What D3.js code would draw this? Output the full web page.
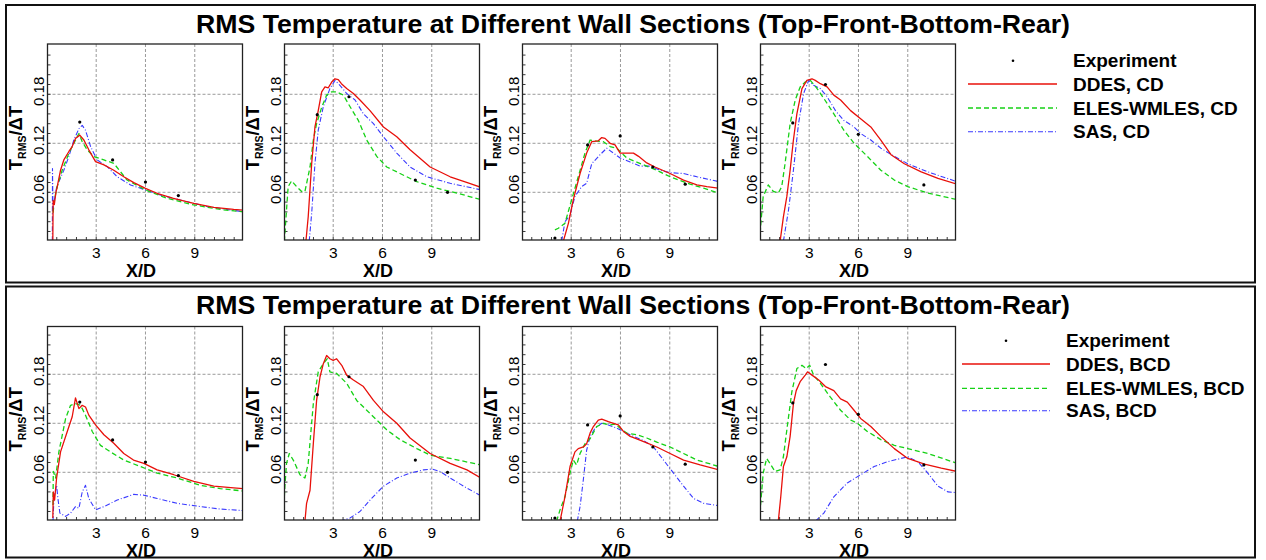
<!DOCTYPE html>
<html><head><meta charset="utf-8">
<script src="https://cdn.jsdelivr.net/npm/d3@7"></script>
<style>body{margin:0;background:#fff}svg{display:block}text{font-family:Arial,"Liberation Sans",sans-serif;fill:#000}</style>
</head><body><svg id="c" width="1266" height="560"></svg>
<script>
// ---------- data ----------
const xTickValues = [3, 6, 9];
const yTickValues = [0.06, 0.12, 0.18];
const yTickLabels = ["0.06", "0.12", "0.18"];
const titleText = "RMS Temperature at Different Wall Sections (Top-Front-Bottom-Rear)";
const xLabelText = "X/D";
const legendCD = ["Experiment", "DDES, CD", "ELES-WMLES, CD", "SAS, CD"];
const legendBCD = ["Experiment", "DDES, BCD", "ELES-WMLES, BCD", "SAS, BCD"];

const experiment = [
  [[2.0,0.146],[4.0,0.0996],[6.0,0.0725],[8.0,0.056]],
  [[2.03,0.155],[3.96,0.177],[8.0,0.075],[9.96,0.060]],
  [[2.01,0.004],[4.0,0.118],[5.98,0.129],[7.97,0.091],[9.94,0.070]],
  [[2.0,0.145],[3.99,0.192],[5.99,0.131],[9.98,0.069]]
];

const ddesCD = [
  [[0.36,0],[0.38,0.05],[0.45,0.045],[0.55,0.06],[0.63,0.067],[0.83,0.087],[1.03,0.0996],[1.34,0.11],[1.54,0.116],[1.74,0.126],[2.0,0.130],[2.25,0.124],[2.55,0.112],[2.96,0.0976],[3.47,0.0935],[4.07,0.087],[4.68,0.079],[5.29,0.0718],[6.0,0.0649],[6.7,0.0588],[7.7,0.0527],[8.94,0.0465],[10.16,0.0416],[11.37,0.039],[12,0.038]],
  [[1.34,0],[1.48,0.03],[1.69,0.095],[1.89,0.14],[2.09,0.16],[2.3,0.183],[2.5,0.189],[2.7,0.188],[2.91,0.195],[3.11,0.199],[3.31,0.198],[3.5,0.193],[3.82,0.187],[4.23,0.181],[4.63,0.173],[5.24,0.16],[6.06,0.14],[6.87,0.128],[7.68,0.112],[8.9,0.091],[10.12,0.079],[11.3,0.071],[12,0.066]],
  [[2.52,0],[2.83,0.022],[3.13,0.051],[3.54,0.083],[3.94,0.108],[4.25,0.122],[4.65,0.123],[4.86,0.127],[5.06,0.126],[5.37,0.12],[5.67,0.118],[5.98,0.108],[6.38,0.108],[6.79,0.108],[7.1,0.104],[7.6,0.096],[8.1,0.091],[9.02,0.083],[9.84,0.075],[10.65,0.069],[11.26,0.067],[12,0.065]],
  [[1.23,0],[1.43,0.03],[1.64,0.055],[1.84,0.087],[2.04,0.124],[2.25,0.156],[2.56,0.187],[2.86,0.197],[3.17,0.199],[3.37,0.197],[3.68,0.193],[4.09,0.189],[4.5,0.179],[4.91,0.173],[5.52,0.16],[6.13,0.15],[6.75,0.14],[7.36,0.124],[7.98,0.106],[8.79,0.095],[9.82,0.085],[10.84,0.077],[12,0.07]]
];
const elesCD = [
  [[0.38,0.035],[0.43,0.0465],[0.5,0.055],[0.63,0.067],[0.93,0.087],[1.34,0.108],[1.64,0.12],[1.95,0.132],[2.15,0.122],[2.45,0.112],[2.86,0.1037],[3.47,0.0996],[4.07,0.0955],[4.88,0.075],[6.0,0.0629],[7.3,0.0527],[8.94,0.0445],[10.56,0.039],[12,0.036]],
  [[0.0,-0.01],[0.06,0.01],[0.26,0.067],[0.47,0.074],[0.77,0.067],[1.08,0.061],[1.28,0.061],[1.59,0.091],[1.79,0.124],[1.99,0.144],[2.3,0.164],[2.6,0.179],[2.91,0.183],[3.21,0.183],[3.62,0.179],[4.02,0.165],[4.53,0.148],[5.04,0.124],[5.65,0.104],[6.26,0.091],[7.07,0.083],[8.09,0.073],[9.31,0.065],[10.53,0.059],[12,0.051]],
  [[2.01,0.014],[2.22,0.016],[2.62,0.022],[3.03,0.051],[3.43,0.079],[3.84,0.108],[4.15,0.124],[4.45,0.123],[4.96,0.122],[5.37,0.116],[5.77,0.114],[6.38,0.102],[6.99,0.097],[7.6,0.092],[8.21,0.087],[9.02,0.079],[10.24,0.07],[11.06,0.065],[12,0.059]],
  [[0.0,0.0],[0.04,0.018],[0.2,0.055],[0.51,0.069],[0.82,0.061],[1.12,0.059],[1.33,0.067],[1.53,0.095],[1.84,0.144],[2.15,0.173],[2.45,0.189],[2.76,0.195],[3.07,0.197],[3.48,0.187],[3.89,0.175],[4.5,0.156],[5.11,0.136],[5.73,0.12],[6.54,0.104],[7.36,0.087],[8.18,0.075],[9.0,0.067],[10.22,0.059],[12,0.051]]
];
const sasCD = [
  [[0.33,0],[0.34,0.089],[0.37,0.04],[0.45,0.05],[0.6,0.067],[1.03,0.087],[1.34,0.104],[1.64,0.124],[1.95,0.138],[2.15,0.142],[2.35,0.136],[2.66,0.116],[3.06,0.0996],[3.67,0.0914],[4.28,0.079],[5.09,0.069],[6.0,0.0629],[6.9,0.0567],[8.1,0.0506],[9.75,0.0425],[12,0.036]],
  [[1.54,0],[1.69,0.034],[1.89,0.095],[2.09,0.136],[2.4,0.165],[2.8,0.187],[3.11,0.197],[3.41,0.191],[3.82,0.181],[4.33,0.173],[4.84,0.156],[5.45,0.144],[6.06,0.128],[6.87,0.108],[7.68,0.091],[8.7,0.079],[10.12,0.071],[12,0.063]],
  [[2.42,0],[2.62,0.024],[2.93,0.032],[3.23,0.055],[3.64,0.067],[3.94,0.071],[4.25,0.095],[4.76,0.106],[5.16,0.114],[5.57,0.108],[5.98,0.102],[6.59,0.097],[7.2,0.092],[7.8,0.092],[8.41,0.087],[9.02,0.084],[9.84,0.083],[10.65,0.079],[12,0.073]],
  [[1.43,0],[1.74,0.038],[2.04,0.087],[2.35,0.144],[2.66,0.181],[2.97,0.197],[3.27,0.191],[3.68,0.187],[4.09,0.177],[4.6,0.16],[5.11,0.148],[5.73,0.14],[6.13,0.132],[6.75,0.124],[7.36,0.114],[8.18,0.104],[9.0,0.095],[10.22,0.085],[12,0.073]]
];

const ddesBCD = [
  [[0.36,0.004],[0.39,0.036],[0.47,0.026],[0.59,0.053],[0.83,0.085],[1.24,0.11],[1.54,0.128],[1.74,0.151],[1.95,0.138],[2.15,0.142],[2.35,0.14],[2.55,0.13],[2.96,0.118],[3.47,0.106],[4.07,0.0955],[4.68,0.083],[5.27,0.075],[5.9,0.071],[6.71,0.063],[7.72,0.057],[8.94,0.049],[10.16,0.043],[11.37,0.041],[12,0.04]],
  [[1.28,0],[1.38,0.022],[1.59,0.038],[1.79,0.095],[1.99,0.148],[2.2,0.177],[2.4,0.193],[2.6,0.203],[2.8,0.199],[3.0,0.197],[3.21,0.199],[3.52,0.191],[3.82,0.179],[4.23,0.173],[4.84,0.165],[5.45,0.148],[6.06,0.134],[6.87,0.12],[7.68,0.102],[8.9,0.083],[10.12,0.071],[11.14,0.063],[12,0.053]],
  [[2.32,0],[2.62,0.03],[2.93,0.067],[3.23,0.085],[3.43,0.089],[3.74,0.091],[3.94,0.095],[4.15,0.108],[4.35,0.116],[4.65,0.124],[4.86,0.125],[5.26,0.122],[5.57,0.12],[5.87,0.118],[6.18,0.11],[6.59,0.104],[6.99,0.101],[7.6,0.096],[8.21,0.091],[9.02,0.083],[9.84,0.075],[10.85,0.069],[12,0.063]],
  [[1.12,0],[1.27,0.03],[1.43,0.067],[1.64,0.079],[1.84,0.104],[2.04,0.144],[2.21,0.16],[2.45,0.171],[2.76,0.179],[2.9,0.183],[3.17,0.179],[3.58,0.173],[3.99,0.165],[4.5,0.16],[4.91,0.15],[5.32,0.146],[5.73,0.136],[6.13,0.126],[6.75,0.116],[7.36,0.104],[8.18,0.089],[9.0,0.077],[10.02,0.07],[11.04,0.065],[12,0.061]]
];
const elesBCD = [
  [[0.37,0.02],[0.39,0.061],[0.53,0.053],[0.73,0.085],[1.14,0.126],[1.44,0.142],[1.74,0.144],[2.05,0.142],[2.35,0.13],[2.76,0.11],[3.26,0.093],[3.87,0.085],[4.68,0.075],[5.7,0.067],[6.71,0.059],[7.93,0.053],[9.35,0.044],[10.56,0.04],[12,0.037]],
  [[0.0,0.02],[0.06,0.043],[0.16,0.071],[0.33,0.083],[0.57,0.075],[0.98,0.057],[1.28,0.053],[1.48,0.071],[1.79,0.144],[2.09,0.183],[2.4,0.193],[2.64,0.199],[2.8,0.183],[3.21,0.181],[3.82,0.169],[4.43,0.148],[5.04,0.136],[5.65,0.124],[6.26,0.112],[7.07,0.1],[8.09,0.089],[8.9,0.081],[10.12,0.077],[12,0.069]],
  [[2.11,0],[2.32,0.014],[2.62,0.03],[2.93,0.059],[3.13,0.075],[3.33,0.069],[3.54,0.083],[3.84,0.095],[4.15,0.101],[4.55,0.116],[4.96,0.12],[5.37,0.118],[5.67,0.119],[5.98,0.114],[6.38,0.108],[6.99,0.106],[7.6,0.102],[8.21,0.097],[9.02,0.091],[9.84,0.083],[10.65,0.075],[12,0.067]],
  [[0.0,0.0],[0.04,0.02],[0.2,0.059],[0.41,0.077],[0.61,0.071],[0.92,0.061],[1.23,0.063],[1.43,0.079],[1.64,0.112],[1.94,0.158],[2.25,0.187],[2.56,0.191],[2.82,0.187],[3.03,0.191],[3.27,0.179],[3.68,0.169],[4.29,0.152],[4.91,0.136],[5.52,0.124],[5.93,0.12],[6.54,0.11],[7.36,0.1],[8.18,0.093],[9.0,0.089],[10.22,0.083],[12,0.071]]
];
const sasBCD = [
  [[0.37,0],[0.43,0.028],[0.59,0.044],[0.67,0.028],[0.79,0.01],[1.14,0.006],[1.44,0.01],[1.74,0.018],[1.95,0.016],[2.15,0.036],[2.35,0.044],[2.55,0.028],[2.96,0.014],[3.47,0.018],[4.28,0.026],[5.29,0.033],[5.9,0.032],[6.71,0.028],[7.93,0.022],[9.35,0.018],[10.56,0.015],[12,0.013]],
  [[3.41,0],[4.02,0.004],[4.63,0.012],[5.24,0.026],[6.06,0.043],[6.87,0.053],[7.68,0.059],[8.5,0.063],[9.0,0.064],[9.51,0.061],[10.12,0.053],[10.94,0.043],[12,0.031]],
  [[3.37,0],[3.54,0.018],[3.74,0.051],[3.94,0.087],[4.15,0.104],[4.45,0.114],[4.86,0.12],[5.26,0.118],[5.77,0.114],[6.18,0.11],[6.79,0.104],[7.4,0.099],[8.01,0.091],[8.62,0.075],[9.23,0.059],[9.84,0.043],[10.45,0.028],[11.06,0.022],[12,0.019]],
  [[3.37,0],[3.89,0.01],[4.5,0.03],[5.32,0.047],[6.13,0.057],[6.95,0.067],[7.77,0.073],[8.59,0.077],[9.0,0.079],[9.61,0.073],[10.22,0.059],[10.84,0.043],[11.45,0.036],[12,0.035]]
];

// ---------- layout / style ----------
const W = 1266, H = 560;
const svg = d3.select("#c");
svg.append("rect").attr("width", W).attr("height", H).attr("fill", "#fff");

const plotLefts = [47.5, 284.5, 522.5, 760.5];
const plotW = 195;
const pxPerX = 16.43, pxPerY = 816.7;

const panels = [
  {box:[6,5,1255,282.5], titleY:33, plotTop:44, plotBottom:240, y0:241.3, legend:legendCD,
   legX:{dot:1013, l1:968, l2:1057, text:1073}, legY:[60.7,84,108,131.7],
   series:[ddesCD, elesCD, sasCD]},
  {box:[6,286.5,1255,557.5], titleY:313.5, plotTop:326.5, plotBottom:520, y0:521.3, legend:legendBCD,
   legX:{dot:1006, l1:962, l2:1050, text:1066}, legY:[340.7,364,388.3,410.7],
   series:[ddesBCD, elesBCD, sasBCD]}
];

const styles = [
  {stroke:"#e8100a", width:1.3, dash:null},
  {stroke:"#16d116", width:1.3, dash:"5,3"},
  {stroke:"#3a3aff", width:1.1, dash:"5,2,1,2"}
];

const minorX = d3.range(0.6, 11.9, 0.6);
const minorY = d3.range(0.012, 0.235, 0.012);

panels.forEach((P, pi) => {
  svg.append("rect").attr("x", P.box[0]).attr("y", P.box[1])
    .attr("width", P.box[2]-P.box[0]).attr("height", P.box[3]-P.box[1])
    .attr("fill", "none").attr("stroke", "#111").attr("stroke-width", 2);

  svg.append("text").attr("x", 633).attr("y", P.titleY)
    .attr("text-anchor", "middle").attr("font-weight", "bold")
    .attr("font-size", 25).attr("textLength", 874).attr("lengthAdjust", "spacingAndGlyphs")
    .text(titleText);

  plotLefts.forEach((left, si) => {
    const x = d3.scaleLinear().domain([0, 12]).range([left-0.6, left-0.6+12*pxPerX]);
    const y = d3.scaleLinear().domain([0, 0.24]).range([P.y0, P.y0-0.24*pxPerY]);
    const g = svg.append("g");
    const cid = `clip${pi}_${si}`;
    svg.append("clipPath").attr("id", cid).append("rect")
      .attr("x", left).attr("y", P.plotTop).attr("width", plotW).attr("height", P.plotBottom-P.plotTop);

    // grid
    g.selectAll("line.gx").data(xTickValues).join("line")
      .attr("x1", d=>x(d)).attr("x2", d=>x(d)).attr("y1", P.plotTop).attr("y2", P.plotBottom)
      .attr("stroke", "#808080").attr("stroke-width", 0.8).attr("stroke-dasharray", "3,2");
    g.selectAll("line.gy").data(yTickValues).join("line")
      .attr("x1", left).attr("x2", left+plotW).attr("y1", d=>y(d)).attr("y2", d=>y(d))
      .attr("stroke", "#808080").attr("stroke-width", 0.8).attr("stroke-dasharray", "3,2");

    // ticks (inward)
    const tk = svg.append("g").attr("stroke", "#222").attr("stroke-width", 0.9);
    tk.selectAll("line.mx").data(minorX).join("line")
      .attr("x1", d=>x(d)).attr("x2", d=>x(d)).attr("y1", P.plotBottom).attr("y2", P.plotBottom-3);
    tk.selectAll("line.my").data(minorY.filter(v => y(v) > P.plotTop+1)).join("line")
      .attr("y1", d=>y(d)).attr("y2", d=>y(d)).attr("x1", left).attr("x2", left+3);

    // series
    const line = d3.line().x(d=>x(d[0])).y(d=>y(d[1]));
    const lg = svg.append("g").attr("clip-path", `url(#${cid})`);
    [2,1,0].forEach(k => {
      const st = styles[k];
      lg.append("path").datum(P.series[k][si]).attr("d", line)
        .attr("fill", "none").attr("stroke", st.stroke).attr("stroke-width", st.width)
        .attr("stroke-dasharray", st.dash).attr("stroke-linejoin", "round");
    });
    lg.selectAll("circle").data(experiment[si]).join("circle")
      .attr("cx", d=>x(d[0])).attr("cy", d=>y(d[1])).attr("r", 1.6).attr("fill", "#000");

    // frame
    svg.append("rect").attr("x", left).attr("y", P.plotTop).attr("width", plotW)
      .attr("height", P.plotBottom-P.plotTop).attr("fill", "none")
      .attr("stroke", "#222").attr("stroke-width", 1.3);

    // x tick labels
    svg.selectAll(null).data(xTickValues).join("text")
      .attr("x", d=>x(d)).attr("y", P.plotBottom+17.5)
      .attr("text-anchor", "middle").attr("font-size", 15.5).text(d=>d);
    svg.append("text").attr("x", left+plotW/2 - 4).attr("y", P.plotBottom+36.5)
      .attr("text-anchor", "middle").attr("font-weight", "bold").attr("font-size", 18)
      .text(xLabelText);

    // y tick labels (rotated)
    svg.selectAll(null).data(yTickValues).join("text")
      .attr("transform", (d,i)=>`translate(${left-4},${y(d)-3}) rotate(-90)`)
      .attr("text-anchor", "middle").attr("font-size", 15)
      .text((d,i)=>yTickLabels[i]);

    // y label
    const cy = (P.plotTop+P.plotBottom)/2 - 4;
    const yl = svg.append("text")
      .attr("transform", `translate(${left-26},${cy}) rotate(-90)`)
      .attr("text-anchor", "middle").attr("font-weight", "bold").attr("font-size", 18.5);
    yl.append("tspan").text("T");
    yl.append("tspan").attr("font-size", 10.5).attr("dy", 4).text("RMS");
    yl.append("tspan").attr("dy", -4).text("/ΔT");
  });

  // legend
  const L = P.legX;
  svg.append("circle").attr("cx", L.dot).attr("cy", P.legY[0]).attr("r", 1.3).attr("fill", "#000");
  [0,1,2].forEach(k => {
    const st = styles[k];
    svg.append("line").attr("x1", L.l1).attr("x2", L.l2).attr("y1", P.legY[k+1]).attr("y2", P.legY[k+1])
      .attr("stroke", st.stroke).attr("stroke-width", st.width).attr("stroke-dasharray", st.dash);
  });
  P.legend.forEach((t, k) => {
    svg.append("text").attr("x", L.text).attr("y", P.legY[k]+6.5)
      .attr("font-weight", "bold").attr("font-size", 19).text(t);
  });
});
</script></body></html>
